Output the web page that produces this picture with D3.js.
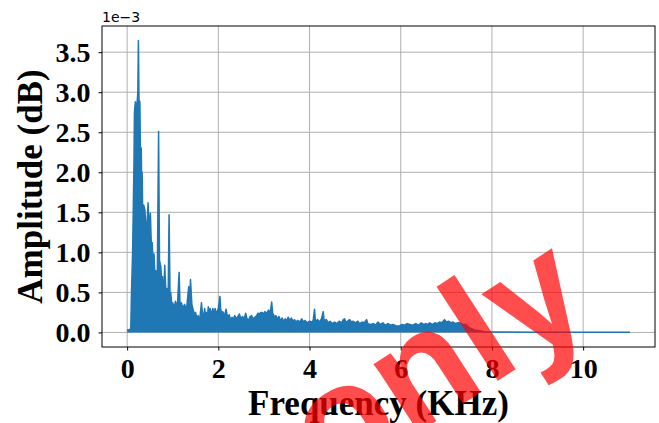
<!DOCTYPE html>
<html>
<head>
<meta charset="utf-8">
<script src="https://cdn.jsdelivr.net/npm/d3@7"></script>
<style>
  body { margin: 0; background: #fff; }
  svg { display: block; }
</style>
</head>
<body>
<script>
// spectrum envelope: [freq kHz, amplitude in units of 1e-3]
var lowBand = [
    [0.0, 0.035], [0.05, 0.03], [0.08, 0.05], [0.095, 0.49], [0.12, 1.0], [0.15, 2.1], [0.16, 2.74],
    [0.18, 2.88], [0.2, 2.8], [0.22, 2.88], [0.235, 3.0], [0.247, 3.645], [0.26, 2.9], [0.28, 2.88],
    [0.29, 2.32], [0.31, 2.3], [0.32, 1.8], [0.33, 2.0], [0.345, 1.3], [0.365, 1.59], [0.39, 1.53],
    [0.42, 1.2], [0.46, 1.62], [0.48, 1.3], [0.51, 1.49], [0.53, 1.1], [0.55, 1.12], [0.57, 0.85],
    [0.59, 0.98], [0.61, 0.7], [0.63, 0.77], [0.66, 0.6], [0.69, 2.51], [0.71, 0.9], [0.74, 0.82],
    [0.76, 0.55], [0.775, 0.7], [0.8, 0.45], [0.825, 0.84], [0.85, 0.5], [0.87, 0.55], [0.9, 0.45],
    [0.92, 1.47], [0.94, 0.5], [0.955, 0.5], [0.98, 0.35], [1.0, 0.37], [1.03, 0.3], [1.06, 0.39],
    [1.1, 0.3], [1.14, 0.75], [1.16, 0.35], [1.19, 0.37], [1.22, 0.3], [1.26, 0.35], [1.3, 0.28],
    [1.33, 0.45], [1.35, 0.57], [1.37, 0.4], [1.39, 0.66], [1.42, 0.35], [1.45, 0.28], [1.48, 0.22],
    [1.5, 0.25], [1.53, 0.18], [1.56, 0.21], [1.58, 0.15], [1.6, 0.2], [1.63, 0.37], [1.65, 0.25],
    [1.68, 0.2], [1.7, 0.3], [1.72, 0.22], [1.74, 0.25], [1.76, 0.2], [1.78, 0.32], [1.8, 0.22],
    [1.82, 0.3], [1.85, 0.22], [1.88, 0.3], [1.9, 0.24], [1.93, 0.3], [1.95, 0.2], [1.97, 0.26]
];
var midBand = [
    [2.0, 0.3], [2.035, 0.45], [2.05, 0.3], [2.08, 0.22], [2.1, 0.26], [2.13, 0.2], [2.17, 0.29],
    [2.2, 0.2], [2.24, 0.22], [2.27, 0.15], [2.3, 0.19], [2.33, 0.16], [2.36, 0.21], [2.4, 0.17],
    [2.43, 0.2], [2.46, 0.23], [2.5, 0.17], [2.53, 0.2], [2.56, 0.16], [2.6, 0.24], [2.63, 0.17],
    [2.66, 0.15], [2.7, 0.2], [2.73, 0.21], [2.76, 0.17], [2.8, 0.19], [2.83, 0.2], [2.87, 0.24],
    [2.9, 0.23], [2.93, 0.25], [2.97, 0.25], [3.0, 0.22], [3.02, 0.26], [3.06, 0.24], [3.1, 0.28],
    [3.14, 0.25], [3.17, 0.38], [3.19, 0.25], [3.22, 0.2], [3.26, 0.21], [3.3, 0.17], [3.33, 0.2],
    [3.36, 0.15], [3.4, 0.18], [3.43, 0.14], [3.47, 0.17], [3.5, 0.14], [3.53, 0.19], [3.57, 0.15],
    [3.6, 0.18], [3.64, 0.14], [3.67, 0.16], [3.7, 0.13], [3.74, 0.15], [3.78, 0.13], [3.83, 0.17],
    [3.87, 0.13], [3.9, 0.15], [3.95, 0.12], [4.0, 0.14], [4.05, 0.13], [4.08, 0.15], [4.11, 0.29],
    [4.13, 0.14], [4.18, 0.16], [4.22, 0.13], [4.26, 0.17], [4.3, 0.26], [4.32, 0.15], [4.37, 0.16],
    [4.41, 0.12], [4.45, 0.14], [4.5, 0.11], [4.55, 0.13], [4.6, 0.11], [4.65, 0.14], [4.7, 0.12],
    [4.74, 0.16], [4.77, 0.17], [4.8, 0.12], [4.85, 0.15], [4.88, 0.16], [4.92, 0.13], [4.96, 0.14]
];
var highBand = [
    [5.0, 0.12], [5.06, 0.14], [5.1, 0.11], [5.15, 0.13], [5.2, 0.12], [5.25, 0.16], [5.28, 0.11],
    [5.33, 0.1], [5.4, 0.11], [5.45, 0.09], [5.5, 0.13], [5.55, 0.1], [5.61, 0.12], [5.66, 0.09],
    [5.72, 0.11], [5.78, 0.09], [5.83, 0.1], [5.9, 0.08], [5.97, 0.08], [6.03, 0.1], [6.08, 0.09],
    [6.14, 0.11], [6.2, 0.1], [6.26, 0.09], [6.33, 0.11], [6.39, 0.09], [6.45, 0.12], [6.5, 0.1],
    [6.55, 0.11], [6.6, 0.1], [6.63, 0.12], [6.7, 0.1], [6.75, 0.12], [6.8, 0.11], [6.85, 0.13],
    [6.9, 0.12], [6.96, 0.16], [7.0, 0.13], [7.05, 0.14], [7.1, 0.12], [7.15, 0.13], [7.2, 0.11],
    [7.25, 0.12], [7.3, 0.12], [7.36, 0.1], [7.43, 0.1], [7.48, 0.07], [7.54, 0.05], [7.62, 0.03],
    [7.72, 0.02], [7.86, 0.005], [9.0, 0.003], [11.025, 0.003]
];

var xTicks = [0, 2, 4, 6, 8, 10];
var yTicks = [0, 0.5, 1.0, 1.5, 2.0, 2.5, 3.0, 3.5];

var width = 659,
    height = 423;
var margin = {left: 102, right: 4, top: 26, bottom: 76};

var svg = d3.select("body").append("svg")
    .attr("width", width)
    .attr("height", height);

var x = d3.scaleLinear()
    .domain([-0.551, 11.576])
    .range([margin.left, width - margin.right]);
var y = d3.scaleLinear()
    .domain([-0.182, 3.827])
    .range([height - margin.bottom, margin.top]);

var data = lowBand.concat(midBand, highBand).map(function(p) {
    return {f: p[0], a: p[1]};
});

// grid
svg.append("g").selectAll("line").data(xTicks)
    .enter().append("line")
    .attr("x1", function(d) { return x(d); })
    .attr("x2", function(d) { return x(d); })
    .attr("y1", margin.top)
    .attr("y2", height - margin.bottom)
    .attr("stroke", "#b0b0b0")
    .attr("stroke-width", 1);
svg.append("g").selectAll("line").data(yTicks)
    .enter().append("line")
    .attr("y1", function(d) { return y(d); })
    .attr("y2", function(d) { return y(d); })
    .attr("x1", margin.left)
    .attr("x2", width - margin.right)
    .attr("stroke", "#b0b0b0")
    .attr("stroke-width", 1);

var area = d3.area()
    .x(function(d) { return x(d.f); })
    .y0(y(0))
    .y1(function(d) { return y(d.a); });
var line = d3.line()
    .x(function(d) { return x(d.f); })
    .y(function(d) { return y(d.a); });

svg.append("path")
    .datum(data)
    .attr("d", area)
    .attr("fill", "#1f77b4");
svg.append("path")
    .datum(data)
    .attr("d", line)
    .attr("fill", "none")
    .attr("stroke", "#1f77b4")
    .attr("stroke-width", 1.5)
    .attr("stroke-linejoin", "round");

// axes
var xAxis = svg.append("g")
    .attr("transform", "translate(0," + (height - margin.bottom) + ")")
    .call(d3.axisBottom(x).tickValues(xTicks).tickSize(3.5).tickPadding(7.5).tickFormat(d3.format("d")));
var yAxis = svg.append("g")
    .attr("transform", "translate(" + margin.left + ",0)")
    .call(d3.axisLeft(y).tickValues(yTicks).tickSize(3.5).tickPadding(8).tickFormat(d3.format(".1f")));

[xAxis, yAxis].forEach(function(g) {
    g.select(".domain").remove();
    g.selectAll("text")
        .attr("fill", "#000")
        .style("font-family", "'Liberation Serif', 'Times New Roman', serif")
        .style("font-weight", "bold")
        .style("font-size", "28px");
    g.selectAll("line").attr("stroke", "#000").attr("stroke-width", 1);
});

svg.append("rect")
    .attr("x", margin.left)
    .attr("y", margin.top)
    .attr("width", width - margin.right - margin.left)
    .attr("height", height - margin.bottom - margin.top)
    .attr("fill", "none")
    .attr("stroke", "#000")
    .attr("stroke-width", 1);

svg.append("text")
    .attr("x", margin.left)
    .attr("y", 21.5)
    .style("font-family", "'DejaVu Sans', sans-serif")
    .style("font-size", "14px")
    .text("1e\u22123");

svg.append("text")
    .attr("x", (margin.left + width - margin.right) / 2)
    .attr("y", 415)
    .attr("text-anchor", "middle")
    .style("font-family", "'Liberation Serif', 'Times New Roman', serif")
    .style("font-weight", "bold")
    .style("font-size", "35px")
    .text("Frequency (KHz)");

svg.append("text")
    .attr("transform", "translate(42," + ((margin.top + height - margin.bottom) / 2) + ") rotate(-90)")
    .attr("text-anchor", "middle")
    .style("font-family", "'Liberation Serif', 'Times New Roman', serif")
    .style("font-weight", "bold")
    .style("font-size", "35px")
    .text("Amplitude (dB)");

// watermark
svg.append("text")
    .attr("transform", "translate(330,490) rotate(-33)")
    .style("font-family", "'Liberation Sans', Arial, sans-serif")
    .style("font-weight", "bold")
    .style("font-size", "155px")
    .attr("fill", "#ff0000")
    .attr("fill-opacity", 0.7)
    .text("only");
</script>
</body>
</html>
